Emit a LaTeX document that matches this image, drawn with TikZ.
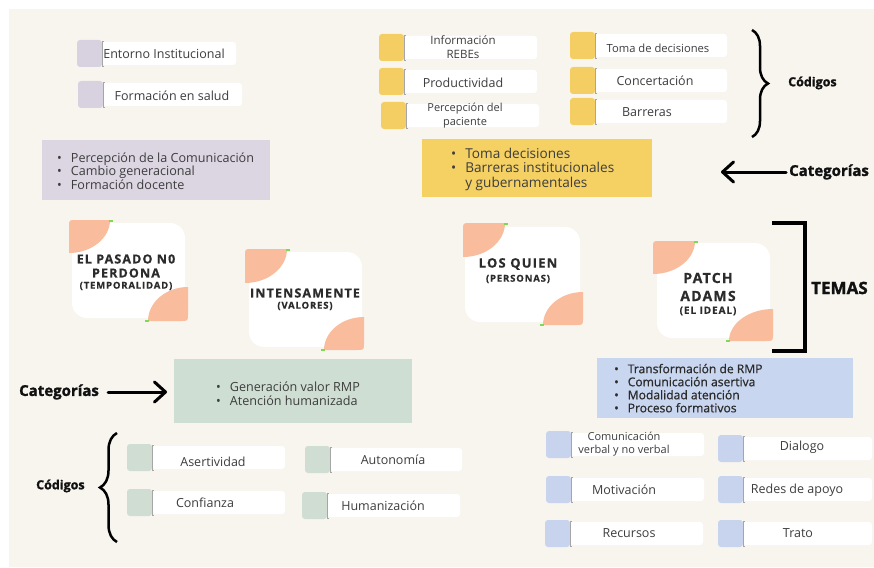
\documentclass[tikz,border=0pt]{standalone}
\usepackage{fontspec}
\setmainfont{Open Sans}
\newfontfamily\themefont[LetterSpace=9, BoldFeatures={FakeBold=0.6}]{Open Sans}
\newfontfamily\semifont[FakeBold=0.7]{Open Sans}
\newfontfamily\heavyfont[BoldFeatures={FakeBold=1.4}]{Open Sans}
\usetikzlibrary{arrows.meta,decorations.pathreplacing}
\definecolor{cream}{HTML}{F8F5EF}
\definecolor{purpSq}{HTML}{D8D1E0}
\definecolor{purpBox}{HTML}{DCD5E2}
\definecolor{yelSq}{HTML}{F5CE63}
\definecolor{yelBox}{HTML}{F5D063}
\definecolor{grnSq}{HTML}{CFDDD2}
\definecolor{grnBox}{HTML}{CFDED3}
\definecolor{bluSq}{HTML}{C8D4EE}
\definecolor{bluBox}{HTML}{C9D6F0}
\definecolor{peach}{HTML}{F9BD9D}
\definecolor{tick}{HTML}{7ED957}
\definecolor{txt}{HTML}{3D3D3D}
\definecolor{dark}{HTML}{2B2B2B}
\definecolor{ink}{HTML}{111111}
\tikzset{
  codetext/.style={inner sep=0pt, text=txt, align=center, font=\fontsize{12.5}{14}\selectfont},
  listtext/.style={inner sep=0pt, anchor=west, text=txt},
  card/.style={fill=white, rounded corners=15pt, inner sep=0pt},
  cattitle/.style={inner sep=0pt, text=dark, font=\themefont\bfseries\fontsize{12.5}{14}\selectfont},
  catsub/.style={inner sep=0pt, text=dark, font=\themefont\bfseries\fontsize{9.5}{11}\selectfont},
  label/.style={inner sep=0pt, anchor=west, text=ink, font=\heavyfont\bfseries\fontsize{15}{17}\selectfont},
  bigarrow/.style={line width=3pt, line cap=round, -{Straight Barb[length=11pt, width=20pt, round]}},
  bracestyle/.style={line width=2.5pt, decorate},
}
% #1 name, #2 colour, #3 x, #4 y, #5 right x of white box, #6 text centre x, #7 extra node options, #8 text
\newcommand\codeitem[8]{%
  \fill[#2, rounded corners=3pt] (#3,#4) rectangle ({#3+25},{#4+27});
  \fill[white, rounded corners=3pt] ({#3+25},{#4+2}) rectangle (#5,{#4+25});
  \draw[black!35, line width=0.4pt] ({#3+26.5},{#4+1}) -- ({#3+25},{#4+1}) -- ({#3+25},{#4+26}) -- ({#3+26.5},{#4+26});
  \node[codetext, #7] (#1) at (#6,{#4+13.5}) {#8};
}
% top-left peach: x0, y0, w, h
\newcommand\peachTL[4]{%
  \fill[peach] ({#1+#3},#2) -- ({#1+7},#2) .. controls (#1,#2) .. (#1,{#2+7}) -- (#1,{#2+#4})
    .. controls ({#1+0.55*#3},{#2+#4}) and ({#1+#3},{#2+0.55*#4}) .. ({#1+#3},#2) -- cycle;
  \fill[tick] ({#1+#3-1},{#2-0.5}) rectangle ({#1+#3+3},{#2+1.5});
}
% bottom-right peach: x1, y1, w, h
\newcommand\peachBR[4]{%
  \fill[peach] ({#1-#3},#2) -- ({#1-7},#2) .. controls (#1,#2) .. (#1,{#2-7}) -- (#1,{#2-#4})
    .. controls ({#1-0.55*#3},{#2-#4}) and ({#1-#3},{#2-0.55*#4}) .. ({#1-#3},#2) -- cycle;
  \fill[tick] ({#1-#3-3},{#2-1.5}) rectangle ({#1-#3+1},{#2+0.5});
}
\begin{document}
\begin{tikzpicture}[x=1pt,y=-1pt]
\useasboundingbox (0,0) rectangle (874,567);
\fill[white] (0,0) rectangle (874,567);
\fill[cream] (9,9) rectangle (874,567);

% ---------- purple group ----------
\codeitem{ent}{purpSq}{77}{40}{236}{164}{}{Entorno Institucional}
\codeitem{form}{purpSq}{78}{81}{242}{172}{yshift=-1pt}{Formación en salud}
\node[fill=purpBox, minimum width=228pt, minimum height=60pt, inner sep=0pt] (pbox) at (156,170) {};
\node[listtext, font=\fontsize{12.6}{13}\selectfont] (plist) at (57,173) {%
  \begin{tabular}{@{}l@{\hspace{9pt}}l@{}}
  • & Percepción de la Comunicación\\
  • & Cambio generacional\\
  • & Formación docente
  \end{tabular}};

% ---------- yellow group ----------
\codeitem{info}{yelSq}{379}{34}{537}{463}{font=\fontsize{11.5}{14}\selectfont}{Información\\REBEs}
\codeitem{prod}{yelSq}{379}{68}{537}{463}{yshift=-1pt}{Productividad}
\codeitem{perc}{yelSq}{381}{102}{539}{465}{font=\fontsize{11}{14}\selectfont}{Percepción del\\paciente}
\codeitem{toma}{yelSq}{570}{32}{727}{658}{yshift=-3pt, font=\fontsize{11.2}{13}\selectfont}{Toma de decisiones}
\codeitem{conc}{yelSq}{570}{67}{727}{655}{}{Concertación}
\codeitem{barr}{yelSq}{570}{98}{727}{647}{yshift=-1pt}{Barreras}
\node[fill=yelBox, minimum width=230pt, minimum height=58pt, inner sep=0pt] (ybox) at (537,168) {};
\node[listtext, font=\fontsize{13.6}{14}\selectfont] (ylist) at (451,169.5) {%
  \begin{tabular}{@{}l@{\hspace{9pt}}l@{}}
  • & Toma decisiones\\
  • & Barreras institucionales\\
    & y gubernamentales
  \end{tabular}};

% right labels
\coordinate (braceRtop) at (752,30);
\coordinate (braceRbot) at (752,137);
\draw[bracestyle, decoration={brace, amplitude=16pt}] (braceRtop) -- (braceRbot);
\node[label, font=\heavyfont\bfseries\fontsize{12.5}{14}\selectfont] (codR) at (788,83) {Códigos};
\node[label] (catR) at (789,172) {Categorías};
\coordinate (tipR) at (721,172);
\draw[bigarrow] ([xshift=-3pt]catR.west) -- (tipR);

% ---------- theme cards ----------
\node[card, minimum width=113pt, minimum height=95pt] (card1) at (128.5,270.5) {};
\peachTL{69}{220}{41}{33}
\peachBR{188}{321}{40}{34}
\node[cattitle] (c1a) at (126,259) {EL PASADO N0};
\node[cattitle] (c1b) at (126,273) {PERDONA};
\node[catsub] (c1c) at (126,286) {(TEMPORALIDAD)};

\node[card, minimum width=113pt, minimum height=95pt] (card2) at (305.5,299.5) {};
\peachTL{245}{249}{42}{34}
\peachBR{364}{350}{40}{33}
\node[cattitle] (c2a) at (305,293) {INTENSAMENTE};
\node[catsub] (c2b) at (305,306) {(VALORES)};

\node[card, minimum width=115pt, minimum height=95pt] (card3) at (522.5,274.5) {};
\peachTL{463}{223}{42}{34}
\peachBR{583}{325}{40}{33}
\node[cattitle, font=\themefont\bfseries\fontsize{13}{15}\selectfont] (c3a) at (518,264) {LOS QUIEN};
\node[catsub] (c3b) at (518,279) {(PERSONAS)};

\node[card, minimum width=113pt, minimum height=95pt] (card4) at (713.5,290.5) {};
\peachTL{653}{241}{42}{33}
\peachBR{773}{341}{44}{32}
\node[cattitle, font=\themefont\bfseries\fontsize{14}{16}\selectfont] (c4a) at (708,278) {PATCH};
\node[cattitle, font=\themefont\bfseries\fontsize{14}{16}\selectfont] (c4b) at (708,296) {ADAMS};
\node[catsub, font=\themefont\bfseries\fontsize{10}{12}\selectfont] (c4c) at (708,311) {(EL IDEAL)};

% TEMAS bracket
\coordinate (tb1) at (772,223);
\coordinate (tb2) at (805,223);
\coordinate (tb3) at (805,351);
\coordinate (tb4) at (772,351);
\draw[line width=4pt] (tb1) -- (tb2) -- (tb3) -- (tb4);
\node[label, font=\heavyfont\bfseries\fontsize{17}{19}\selectfont] (temas) at (811,288) {TEMAS};

% ---------- green group ----------
\node[fill=grnBox, minimum width=238pt, minimum height=64pt, inner sep=0pt] (gbox) at (293,391) {};
\node[listtext, font=\fontsize{12.6}{13}\selectfont] (glist) at (216,395.5) {%
  \begin{tabular}{@{}l@{\hspace{9pt}}l@{}}
  • & Generación valor RMP\\
  • & Atención humanizada
  \end{tabular}};
\node[label] (catL) at (19,392) {Categorías};
\coordinate (tipL) at (167,392);
\draw[bigarrow, shorten <=9pt] (catL.east) -- (tipL);

\coordinate (braceLbot) at (117,542);
\coordinate (braceLtop) at (117,433);
\draw[bracestyle, decoration={brace, amplitude=17pt}] (braceLbot) -- (braceLtop);
\node[label, font=\heavyfont\bfseries\fontsize{12.5}{14}\selectfont] (codL) at (36,486) {Códigos};

\codeitem{aser}{grnSq}{127}{444}{285}{213}{yshift=-4pt}{Asertividad}
\codeitem{auto}{grnSq}{305}{446}{462}{393}{}{Autonomía}
\codeitem{conf}{grnSq}{127}{489}{285}{205}{}{Confianza}
\codeitem{hum}{grnSq}{302}{492}{460}{383}{}{Humanización}

% ---------- blue group ----------
\node[fill=bluBox, minimum width=256pt, minimum height=60pt, inner sep=0pt] (bbox) at (725,388) {};
\node[listtext, font=\semifont\fontsize{12.1}{12.6}\selectfont, text=dark] (blist) at (614,390) {%
  \begin{tabular}{@{}l@{\hspace{9pt}}l@{}}
  • & Transformación de RMP\\
  • & Comunicación asertiva\\
  • & Modalidad atención\\
  • & Proceso formativos
  \end{tabular}};

\codeitem{comv}{bluSq}{546}{431}{704}{624}{font=\fontsize{11}{13}\selectfont}{Comunicación\\verbal y no verbal}
\codeitem{dial}{bluSq}{718}{435}{872}{802}{yshift=1pt}{Dialogo}
\codeitem{moti}{bluSq}{546}{476}{704}{624}{}{Motivación}
\codeitem{rede}{bluSq}{718}{476}{872}{797}{yshift=-1pt}{Redes de apoyo}
\codeitem{recu}{bluSq}{545}{520}{703}{629}{}{Recursos}
\codeitem{trat}{bluSq}{718}{520}{872}{798}{}{Trato}
\end{tikzpicture}
\end{document}
